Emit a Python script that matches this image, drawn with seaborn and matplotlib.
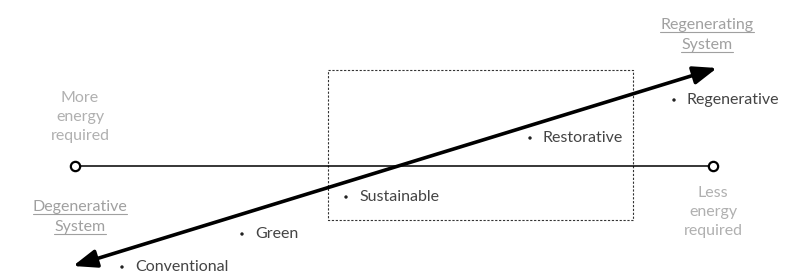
"""
Regenerative design spectrum diagram
"""

import matplotlib
matplotlib.use("Agg")
import matplotlib.pyplot as plt
import matplotlib.patches as mpatches
import seaborn as sns
import pandas as pd

# stages along the arrow (pixel-like canvas coordinates, y grows downward)
stages = ["Conventional", "Green", "Sustainable", "Restorative", "Regenerative"]
stage_x = [122, 242, 346, 530, 674]
stage_y = [267, 234, 197, 138, 100]

# energy axis end points
energy_x = [75, 713]
energy_y = [166, 166]
energy_labels = ["More\nenergy\nrequired", "Less\nenergy\nrequired"]
energy_label_x = [80, 713]
energy_label_y = [117, 212]

# system labels (underlined), baseline of first line
system_labels = ["Degenerative\nSystem", "Regenerating\nSystem"]
system_x = [80, 707]
system_y = [211, 29]

# trend arrow end points and the dashed box
arrow_start = (73, 266)
arrow_end = (717, 68)
box_x, box_y, box_w, box_h = 328, 70, 305, 150

sns.set_theme(style="white")
plt.rcParams["font.family"] = ["Lato", "DejaVu Sans"]
FS = 11.5

fig = plt.figure(figsize=(7.95, 2.73), dpi=100)
ax = fig.add_axes([0, 0, 1, 1])
ax.set_xlim(0, 795)
ax.set_ylim(273, 0)
ax.axis("off")

# horizontal energy line with open circles
ax.plot(energy_x, energy_y, color="black", lw=1.1, zorder=2)
sns.scatterplot(x=energy_x, y=energy_y, ax=ax, s=45, facecolor="white",
                edgecolor="black", linewidth=1.6, zorder=3)

# dashed box around the middle stages
ax.add_patch(mpatches.Rectangle((box_x, box_y), box_w, box_h, fill=False,
                                ls=(0, (2, 1.5)), lw=0.8, ec="#333333", zorder=1))

# the thick two-headed trend arrow
ax.annotate("", xy=arrow_end, xytext=arrow_start,
            arrowprops=dict(arrowstyle="<|-|>,head_length=1.1,head_width=0.42",
                            mutation_scale=13, lw=2.6, color="black",
                            shrinkA=0, shrinkB=0), zorder=4)

# stage dots and labels
df = pd.DataFrame({"stage": stages, "x": stage_x, "y": stage_y})
sns.scatterplot(data=df, x="x", y="y", ax=ax, s=6, color="#222222",
                edgecolor="none", zorder=5, legend=False)
for _, r in df.iterrows():
    ax.text(r.x + 13, r.y, r.stage, ha="left", va="center", fontsize=FS,
            color="#444444")

# gray energy labels
for x, y, lab in zip(energy_label_x, energy_label_y, energy_labels):
    ax.text(x, y, lab, ha="center", va="center", fontsize=FS,
            color="#b0b0b0", linespacing=1.42)

# underlined system labels
fig.canvas.draw()
renderer = fig.canvas.get_renderer()
inv = ax.transData.inverted()
for x, y, lab in zip(system_x, system_y, system_labels):
    for i, line in enumerate(lab.split("\n")):
        ly = y + i * 20
        t = ax.text(x, ly, line, ha="center", va="baseline", fontsize=FS,
                    color="#a0a0a0")
        bb = t.get_window_extent(renderer)
        (x0, _), (x1, _) = inv.transform([(bb.x0, bb.y0), (bb.x1, bb.y1)])
        ax.plot([x0, x1], [ly + 2.5, ly + 2.5], color="#a0a0a0", lw=0.8)

fig.savefig("out.png", dpi=100)
